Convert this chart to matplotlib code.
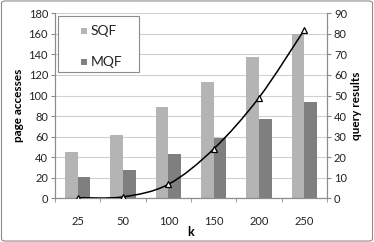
import numpy as np
import matplotlib
matplotlib.use("Agg")
import matplotlib.pyplot as plt
from matplotlib.path import Path
from matplotlib.patches import PathPatch, FancyBboxPatch, Rectangle

k_labels = ['25', '50', '100', '150', '200', '250']
sqf = [45, 62, 89, 113, 137, 160]
mqf = [21, 28, 43, 59, 77, 94]
query_results = [0.3, 0.7, 6.8, 24, 49, 82]

plt.rcParams['font.family'] = ['Lato', 'DejaVu Sans']

W, H = 374, 242
fig = plt.figure(figsize=(W / 100, H / 100), dpi=100)
ax = fig.add_axes([55 / W, 1 - 198.3 / H, 272 / W, 185 / H])
ax2 = ax.twinx()

x = np.arange(len(k_labels))
w = 0.28
bars_sqf = ax.bar(x - w / 2, sqf, w, color='#b4b4b4', label='SQF', zorder=2)
bars_mqf = ax.bar(x + w / 2, mqf, w, color='#7f7f7f', label='MQF', zorder=2)

ax.set_xlim(-0.5, len(k_labels) - 0.5)
ax.set_ylim(0, 180)
ax.set_yticks(range(0, 181, 20))
ax2.set_ylim(0, 90)
ax2.set_yticks(range(0, 91, 10))
ax.yaxis.grid(True, color='#d0d0d0', linewidth=0.8, zorder=0)
ax.set_axisbelow(True)

ax.set_xticks(x)
ax.set_xticklabels(k_labels)
ax.set_xticks(np.arange(-0.5, len(k_labels)), minor=True)
ax.tick_params(axis='x', which='major', length=0, pad=13, labelsize=8, colors='#222222')
ax.tick_params(axis='x', which='minor', length=3, color='#8c8c8c', direction='out')
ax.tick_params(axis='y', length=3, color='#8c8c8c', labelsize=8, colors='#222222', pad=2)
ax2.tick_params(axis='y', length=3, color='#8c8c8c', labelsize=8, colors='#222222', pad=2)

for a in (ax, ax2):
    a.spines['top'].set_visible(False)
    for s in ('left', 'right', 'bottom'):
        a.spines[s].set_color('#8c8c8c')
        a.spines[s].set_linewidth(0.8)

# smoothed line (Catmull-Rom through the data points)
pts = np.column_stack([x, query_results])
verts = [pts[0]]
codes = [Path.MOVETO]
for i in range(len(pts) - 1):
    p0 = pts[max(i - 1, 0)]
    p1 = pts[i]
    p2 = pts[i + 1]
    p3 = pts[min(i + 2, len(pts) - 1)]
    c1 = p1 + (p2 - p0) / 6
    c2 = p2 - (p3 - p1) / 6
    verts += [c1, c2, p2]
    codes += [Path.CURVE4] * 3
ax2.add_patch(PathPatch(Path(verts, codes), facecolor='none', edgecolor='black', linewidth=1.1, zorder=3))
ax2.plot(x, query_results, linestyle='none', marker='^', markersize=5,
         markerfacecolor='white', markeredgecolor='black', markeredgewidth=0.9, zorder=4)

ax.set_ylabel('page accesses', fontsize=8.5, fontweight='bold', labelpad=3)
ax2.set_ylabel('query results', fontsize=8.5, fontweight='bold', labelpad=3)
ax.set_xlabel('k', fontsize=9, fontweight='bold', labelpad=-1)

# legend drawn by hand in pixel positions
def px(xp, yp):
    return xp / W, 1 - yp / H

fig.patches.append(Rectangle(px(58.5, 71.5), 80 / W, 55 / H, transform=fig.transFigure,
                             facecolor='white', edgecolor='#8c8c8c', linewidth=0.8, zorder=5))
for i, bars in enumerate([bars_sqf, bars_mqf]):
    yc = 31.3 + i * 31
    fig.patches.append(Rectangle(px(81, yc + 3), 6 / W, 6 / H, transform=fig.transFigure,
                                 facecolor=bars.patches[0].get_facecolor(), edgecolor='none', zorder=6))
    fig.text(*px(90.5, yc), bars.get_label(), fontsize=10, ha='left', va='center', color='#222222', zorder=6)

fig.patches.append(FancyBboxPatch((0.004, 0.004), 0.992, 0.992, boxstyle='round,pad=0,rounding_size=0.01',
                                  transform=fig.transFigure, facecolor='none', edgecolor='#8c8c8c',
                                  linewidth=0.8))

fig.savefig('out.png', dpi=100)
